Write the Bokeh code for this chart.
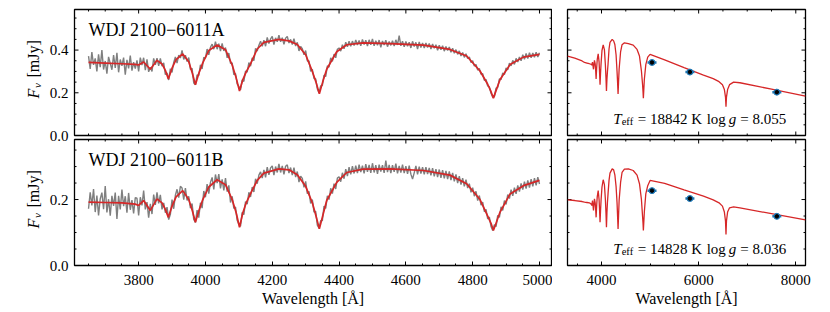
import math
from bokeh.plotting import figure
from bokeh.models import Range1d, SingleIntervalTicker, LinearAxis, Label, PrintfTickFormatter
from bokeh.layouts import column, row
from bokeh.embed import file_html
from bokeh.resources import INLINE

# ---------------- data ----------------
# observed spectra (5 A sampling, 3650..5000 A), mJy
spec_wave = list(range(3650, 5005, 5))
spec_a = [
    0.372, 0.312, 0.391, 0.331, 0.361, 0.300, 0.380, 0.320, 0.400, 0.309,
    0.349, 0.289, 0.368, 0.338, 0.308, 0.377, 0.317, 0.387, 0.296, 0.356,
    0.326, 0.365, 0.285, 0.354, 0.314, 0.374, 0.304, 0.343, 0.313,
    0.352, 0.300, 0.365, 0.330, 0.364, 0.306, 0.357, 0.298, 0.320, 0.300, 0.361, 0.331,
    0.362, 0.326, 0.361, 0.325, 0.340, 0.285, 0.293, 0.260, 0.313, 0.295,
    0.342, 0.368, 0.339, 0.376, 0.363, 0.399, 0.356, 0.376, 0.346, 0.365,
    0.310, 0.315, 0.246, 0.238, 0.284, 0.280, 0.331, 0.312, 0.366, 0.362,
    0.405, 0.378, 0.413, 0.428, 0.404, 0.439, 0.404, 0.430, 0.395, 0.431,
    0.396, 0.412, 0.364, 0.386, 0.338, 0.340, 0.285, 0.290, 0.242, 0.230,
    0.214, 0.261, 0.253, 0.301, 0.297, 0.341, 0.325, 0.363, 0.350, 0.408,
    0.395, 0.423, 0.441, 0.418, 0.446, 0.418, 0.459, 0.431, 0.452, 0.464,
    0.426, 0.457, 0.439, 0.470, 0.439, 0.458, 0.427, 0.456, 0.464, 0.433,
    0.450, 0.426, 0.453, 0.419, 0.436, 0.396, 0.417, 0.407, 0.378, 0.398,
    0.349, 0.349, 0.300, 0.310, 0.267, 0.265, 0.218, 0.200, 0.232, 0.235,
    0.283, 0.276, 0.326, 0.320, 0.364, 0.347, 0.381, 0.364, 0.404, 0.410,
    0.395, 0.425, 0.406, 0.437, 0.415, 0.441, 0.418, 0.442, 0.421, 0.447,
    0.424, 0.445, 0.420, 0.450, 0.426, 0.446, 0.419, 0.448, 0.425, 0.452,
    0.420, 0.444, 0.423, 0.447, 0.413, 0.443, 0.424, 0.446, 0.416, 0.440,
    0.422, 0.444, 0.419, 0.448, 0.424, 0.468, 0.420, 0.441, 0.415, 0.440,
    0.418, 0.437, 0.410, 0.441, 0.417, 0.436, 0.405, 0.438, 0.412, 0.433,
    0.410, 0.433, 0.412, 0.431, 0.405, 0.428, 0.409, 0.425, 0.399, 0.423,
    0.402, 0.420, 0.395, 0.417, 0.398, 0.414, 0.390, 0.409, 0.385, 0.402,
    0.380, 0.396, 0.372, 0.389, 0.366, 0.383, 0.360, 0.368, 0.342, 0.350,
    0.325, 0.333, 0.306, 0.314, 0.287, 0.290, 0.258, 0.262, 0.232, 0.228,
    0.198, 0.180,
    0.182, 0.222, 0.225, 0.265, 0.262, 0.293, 0.285, 0.316, 0.308, 0.339,
    0.326, 0.352, 0.333, 0.361, 0.344, 0.368, 0.350, 0.378, 0.357, 0.384,
    0.360, 0.388, 0.364, 0.386, 0.366, 0.390, 0.368, 0.387,
]
spec_b = [
    0.172, 0.222, 0.182, 0.232, 0.162, 0.212, 0.152, 0.202, 0.221, 0.171,
    0.241, 0.161, 0.201, 0.151, 0.211, 0.181, 0.221, 0.141, 0.211, 0.170,
    0.230, 0.180, 0.210, 0.160, 0.220, 0.169, 0.198, 0.158, 0.206,
    0.204, 0.152, 0.207, 0.182, 0.227, 0.170, 0.192, 0.145, 0.187, 0.156, 0.215, 0.184,
    0.222, 0.188, 0.214, 0.170, 0.190, 0.160, 0.177, 0.139, 0.155, 0.200,
    0.172, 0.213, 0.231, 0.206, 0.240, 0.235, 0.200, 0.235, 0.197, 0.210,
    0.174, 0.188, 0.140, 0.131, 0.168, 0.145, 0.190, 0.174, 0.226, 0.207,
    0.247, 0.218, 0.252, 0.267, 0.231, 0.276, 0.250, 0.277, 0.234, 0.261,
    0.228, 0.265, 0.224, 0.243, 0.191, 0.210, 0.173, 0.177, 0.137, 0.125,
    0.119, 0.161, 0.154, 0.194, 0.186, 0.222, 0.208, 0.238, 0.223, 0.263,
    0.248, 0.274, 0.284, 0.265, 0.290, 0.267, 0.298, 0.275, 0.296, 0.302,
    0.274, 0.300, 0.282, 0.308, 0.282, 0.302, 0.276, 0.301, 0.305, 0.280,
    0.297, 0.274, 0.297, 0.268, 0.285, 0.253, 0.271, 0.264, 0.237, 0.255,
    0.218, 0.225, 0.188, 0.200, 0.162, 0.164, 0.122, 0.113, 0.136, 0.136,
    0.180, 0.173, 0.211, 0.200, 0.234, 0.218, 0.248, 0.232, 0.265, 0.269,
    0.254, 0.281, 0.263, 0.292, 0.271, 0.298, 0.276, 0.301, 0.279, 0.303,
    0.280, 0.306, 0.283, 0.303, 0.279, 0.307, 0.284, 0.305, 0.281, 0.310,
    0.282, 0.304, 0.278, 0.306, 0.285, 0.304, 0.281, 0.318, 0.283, 0.305,
    0.280, 0.304, 0.284, 0.309, 0.279, 0.302, 0.282, 0.306, 0.280, 0.301,
    0.278, 0.303, 0.277, 0.262, 0.281, 0.302, 0.276, 0.300, 0.279, 0.298,
    0.276, 0.298, 0.277, 0.296, 0.273, 0.295, 0.270, 0.292, 0.268, 0.291,
    0.266, 0.289, 0.264, 0.287, 0.262, 0.285, 0.259, 0.281, 0.255, 0.276,
    0.250, 0.271, 0.245, 0.265, 0.240, 0.260, 0.235, 0.248, 0.222, 0.236,
    0.210, 0.225, 0.197, 0.212, 0.183, 0.192, 0.163, 0.170, 0.141, 0.147,
    0.118, 0.106,
    0.124, 0.118, 0.152, 0.146, 0.178, 0.167, 0.197, 0.185, 0.215, 0.203,
    0.230, 0.211, 0.236, 0.217, 0.243, 0.224, 0.249, 0.230, 0.254, 0.233,
    0.258, 0.236, 0.262, 0.240, 0.265, 0.243, 0.268, 0.247,
]

# model spectra in the fitted range
model_wave = [3650, 3700, 3750, 3790, 3800, 3815, 3835, 3855, 3870, 3880,
              3889, 3900, 3912, 3932, 3950, 3961, 3970, 3980, 3992, 4010,
              4035, 4060, 4080, 4092, 4102, 4112, 4122, 4135, 4155, 4175,
              4220, 4250, 4275, 4300, 4320, 4331, 4341, 4351, 4363, 4393,
              4423, 4472, 4553, 4653, 4732, 4782, 4822, 4845, 4855, 4862,
              4870, 4882, 4912, 4952, 5000]
model_a = [0.342, 0.339, 0.336, 0.333, 0.330, 0.344, 0.310, 0.352, 0.335, 0.305,
           0.265, 0.315, 0.355, 0.382, 0.345, 0.290, 0.238, 0.290, 0.340, 0.398,
           0.424, 0.402, 0.330, 0.270, 0.208, 0.262, 0.298, 0.335, 0.405, 0.436,
           0.450, 0.443, 0.426, 0.378, 0.300, 0.250, 0.195, 0.250, 0.310, 0.392,
           0.425, 0.434, 0.430, 0.423, 0.403, 0.372, 0.302, 0.240, 0.205, 0.175,
           0.210, 0.262, 0.332, 0.367, 0.380]
model_b = [0.192, 0.191, 0.190, 0.186, 0.182, 0.197, 0.167, 0.202, 0.190, 0.170,
           0.146, 0.180, 0.208, 0.227, 0.200, 0.165, 0.131, 0.165, 0.200, 0.238,
           0.260, 0.245, 0.200, 0.160, 0.116, 0.160, 0.190, 0.218, 0.258, 0.280,
           0.293, 0.290, 0.275, 0.240, 0.190, 0.150, 0.111, 0.150, 0.197, 0.252,
           0.282, 0.292, 0.293, 0.288, 0.274, 0.248, 0.200, 0.150, 0.128, 0.106,
           0.128, 0.162, 0.217, 0.242, 0.258]

# model extension for the SED panels
pre_wave = [3300, 3450, 3600]
pre_a = [0.372, 0.362, 0.349]
pre_b = [0.199, 0.197, 0.194]
post_wave = [5300, 5700, 6100, 6300, 6420, 6490, 6530, 6553, 6563, 6573,
             6596, 6636, 6720, 6850, 7500, 8200]
post_a = [0.354, 0.318, 0.283, 0.266, 0.252, 0.238, 0.215, 0.180, 0.135, 0.180,
          0.215, 0.238, 0.250, 0.247, 0.217, 0.184]
post_b = [0.249, 0.229, 0.210, 0.199, 0.190, 0.180, 0.162, 0.135, 0.094, 0.135,
          0.162, 0.175, 0.178, 0.175, 0.157, 0.138]

# Gaia photometry (BP, G, RP)
phot_wave = [5040, 5820, 7610]
phot_a = [0.342, 0.297, 0.203]
phot_b = [0.227, 0.203, 0.149]

names = ["WDJ 2100\u22126011A", "WDJ 2100\u22126011B"]
teffs = ["18842", "14828"]
loggs = ["8.055", "8.036"]

# axis ticks
xl_major = [3800, 4000, 4200, 4400, 4600, 4800, 5000]
xl_minor = [3650, 3700, 3750, 3850, 3900, 3950, 4050, 4100, 4150, 4250, 4300,
            4350, 4450, 4500, 4550, 4650, 4700, 4750, 4850, 4900, 4950]
xr_major = [4000, 6000, 8000]
xr_minor = [3500, 4500, 5000, 5500, 6500, 7000, 7500]
yt_major = [0.0, 0.2, 0.4]
yt_minor = [0.05, 0.1, 0.15, 0.25, 0.3, 0.35, 0.45, 0.5, 0.55]
yb_major = [0.0, 0.2]
yb_minor = [0.05, 0.1, 0.15, 0.25, 0.3, 0.35]

# ---------------- style ----------------
FONT = "Liberation Serif"
GRAY = "#7f7f7f"
RED = "#d62728"
BLUE = "#1f77b4"
FIX = 5  # baseline correction in px

XL = (3608, 5036)
XR = (3300, 8200)
YT = (0.0, 0.59)
YB = (0.0, 0.382)

# geometry (px)
TOP_H, BOT_H = 137, 174
FRAME_H = 126
TOP_T, BOT_T = 9, 2
STRIP_W = 73
PAGE_H = TOP_H + BOT_H


def tick_marks(p, xs, ys, angle, size):
    p.scatter(xs, ys, marker="dash", angle=angle, size=size,
              line_color="black", line_width=1)


def make_panel(width, height, xr, yr, borders, xt, yt, xlabels):
    l, r, t, b = borders
    p = figure(width=width, height=height, x_range=Range1d(*xr), y_range=Range1d(*yr),
               output_backend="svg", toolbar_location=None,
               x_axis_location=None, y_axis_location=None,
               min_border_left=l, min_border_right=r,
               min_border_top=t, min_border_bottom=b)
    for g in p.grid:
        g.visible = False
    p.outline_line_color = "black"
    p.outline_line_width = 1.3
    p.outline_line_alpha = 1.0
    xmaj, xmin = xt
    ymaj, ymin = yt
    if xlabels:
        ax = LinearAxis(ticker=SingleIntervalTicker(interval=xmaj[1] - xmaj[0], num_minor_ticks=4),
                        formatter=PrintfTickFormatter(format="%d"))
        ax.axis_label = "Wavelength [\u00c5]"
        ax.axis_label_text_font = FONT
        ax.axis_label_text_font_size = "16px"
        ax.axis_label_text_font_style = "normal"
        ax.axis_label_text_color = "black"
        ax.axis_label_standoff = 2
        ax.axis_line_color = None
        ax.major_tick_in = 4
        ax.major_tick_out = 0
        ax.minor_tick_in = 2
        ax.minor_tick_out = 0
        ax.major_tick_line_color = "black"
        ax.minor_tick_line_color = "black"
        ax.major_label_text_font = FONT
        ax.major_label_text_font_size = "15px"
        ax.major_label_text_color = "black"
        ax.major_label_standoff = 9
        p.add_layout(ax, "below")
    else:
        tick_marks(p, xmaj, [yr[0]] * len(xmaj), math.pi / 2, 8)
        tick_marks(p, xmin, [yr[0]] * len(xmin), math.pi / 2, 4)
    tick_marks(p, [xr[0]] * len(ymaj), ymaj, 0, 8)
    tick_marks(p, [xr[0]] * len(ymin), ymin, 0, 4)
    tick_marks(p, xmaj, [yr[1]] * len(xmaj), math.pi / 2, 8)
    tick_marks(p, xmin, [yr[1]] * len(xmin), math.pi / 2, 4)
    tick_marks(p, [xr[1]] * len(ymaj), ymaj, 0, 8)
    tick_marks(p, [xr[1]] * len(ymin), ymin, 0, 4)
    return p


def add_ylabel(p, x, y):
    common = dict(x=x, y=y, angle=math.pi / 2, text_font=FONT, text_color="black",
                  text_align="left", text_baseline="alphabetic")
    p.add_layout(Label(text="F", text_font_size="16px", text_font_style="italic",
                       x_offset=-FIX, **common))
    p.add_layout(Label(text="\u03bd", text_font_size="11px", text_font_style="italic",
                       x_offset=3 - FIX, y_offset=10.5, **common))
    p.add_layout(Label(text="[mJy]", text_font_size="16px", x_offset=-FIX, y_offset=21, **common))


def add_params(p, x, y, teff, logg):
    common = dict(x=x, y=y, text_font=FONT, text_color="black",
                  text_align="left", text_baseline="alphabetic")
    p.add_layout(Label(text="T", text_font_size="15px", text_font_style="italic",
                       y_offset=FIX, **common))
    p.add_layout(Label(text="eff", text_font_size="10.5px", x_offset=8.5, y_offset=FIX - 3, **common))
    p.add_layout(Label(text="= " + teff + " K", text_font_size="15px", x_offset=24.5,
                       y_offset=FIX, **common))
    p.add_layout(Label(text="log", text_font_size="15px", x_offset=93.5, y_offset=FIX, **common))
    p.add_layout(Label(text="g", text_font_size="15px", text_font_style="italic",
                       x_offset=115.5, y_offset=FIX, **common))
    p.add_layout(Label(text="= " + logg, text_font_size="15px", x_offset=127,
                       y_offset=FIX, **common))


def add_name(p, x, y, name):
    p.add_layout(Label(x=x, y=y, text=name, text_font=FONT, text_font_size="18px",
                       y_offset=FIX, text_align="left", text_baseline="alphabetic",
                       text_color="black"))


# ---------------- panels ----------------
tl = make_panel(479, TOP_H, XL, YT, (1, 1, TOP_T, 2), (xl_major, xl_minor), (yt_major, yt_minor), False)
tr = make_panel(263, TOP_H, XR, YT, (15, 10, TOP_T, 2), (xr_major, xr_minor), (yt_major, yt_minor), False)
bl = make_panel(479, BOT_H, XL, YB, (1, 1, BOT_T, 46), (xl_major, xl_minor), (yb_major, yb_minor), True)
br = make_panel(263, BOT_H, XR, YB, (15, 10, BOT_T, 46), (xr_major, xr_minor), (yb_major, yb_minor), True)

for p, spec, model in [(tl, spec_a, model_a), (bl, spec_b, model_b)]:
    p.line(spec_wave, spec, line_color=GRAY, line_width=1.4)
    p.line(model_wave, model, line_color=RED, line_width=1.7)

for p, pre, model, post, phot in [(tr, pre_a, model_a, post_a, phot_a),
                                  (br, pre_b, model_b, post_b, phot_b)]:
    p.line(pre_wave + model_wave + post_wave, pre + model + post,
           line_color=RED, line_width=1.3)
    p.scatter(phot_wave, phot, marker="dash", size=9, line_width=2.5, line_color=BLUE)
    p.scatter(phot_wave, phot, marker="circle", size=6, fill_color=BLUE, line_color=BLUE)
    p.scatter(phot_wave, phot, marker="circle", size=3.5, fill_color="black", line_color="black")

add_name(tl, 3650, 0.472, names[0])
add_name(bl, 3650, 0.305, names[1])
add_params(tr, 4241, 0.055, teffs[0], loggs[0])
add_params(br, 4241, 0.035, teffs[1], loggs[1])

# ---------------- left strip: y tick labels and y-axis labels ----------------
# ranges of the strip chosen so that each panel's flux scale lines up with its frame
def strip_range(yr, frame_top):
    per_px = (yr[1] - yr[0]) / FRAME_H
    bottom_px = frame_top + FRAME_H
    return Range1d(yr[0] - (PAGE_H - bottom_px) * per_px, yr[1] + frame_top * per_px)


strip = figure(width=STRIP_W, height=PAGE_H, x_range=Range1d(0, STRIP_W),
               y_range=Range1d(0, PAGE_H),
               extra_y_ranges={"top": strip_range(YT, TOP_T),
                               "bot": strip_range(YB, TOP_H + BOT_T)},
               output_backend="svg", toolbar_location=None,
               x_axis_location=None, y_axis_location=None, min_border=0)
for g in strip.grid:
    g.visible = False
strip.outline_line_color = None

for rng, ticks in [("top", yt_major), ("bot", yb_major)]:
    for v in ticks:
        strip.add_layout(Label(x=68, y=v, y_range_name=rng, text="%.1f" % v,
                               text_font=FONT, text_font_size="15px", text_color="black",
                               text_align="right", text_baseline="middle"))

add_ylabel(strip, 38, PAGE_H - 98)
add_ylabel(strip, 38, PAGE_H - 228)

layout = row(strip,
             column(row(tl, tr, spacing=0), row(bl, br, spacing=0), spacing=0),
             spacing=0)

with open("out.html", "w") as f:
    f.write(file_html(layout, INLINE))
